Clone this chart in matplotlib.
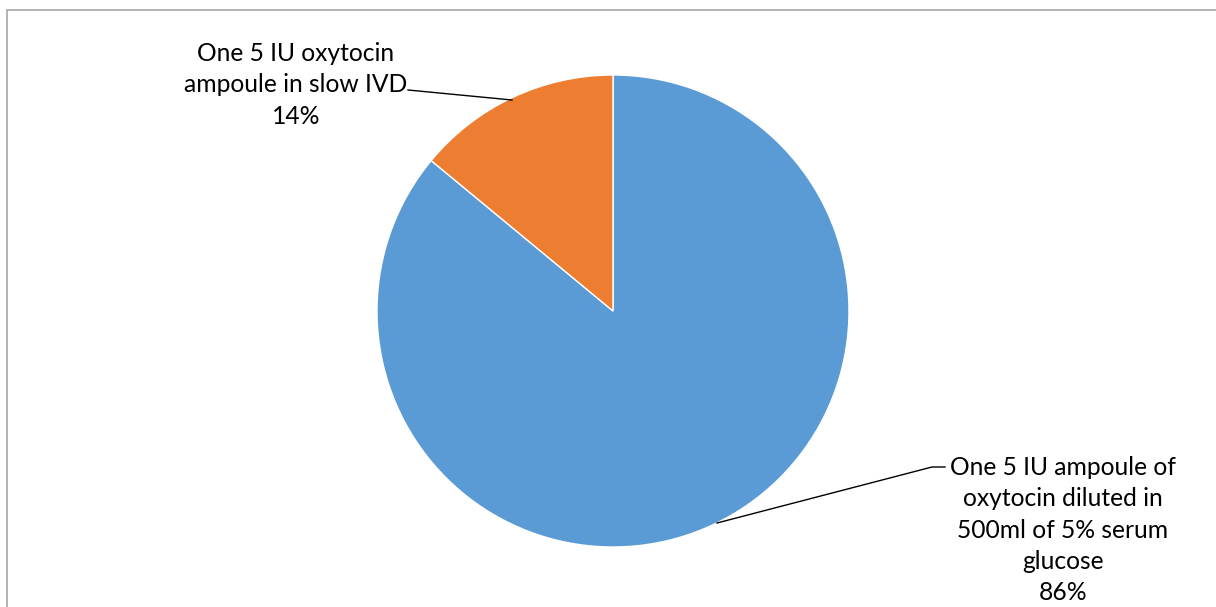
import matplotlib
matplotlib.use("Agg")
import matplotlib.pyplot as plt
from matplotlib.patches import Rectangle

labels = ["One 5 IU ampoule of\noxytocin diluted in\n500ml of 5% serum\nglucose",
          "One 5 IU oxytocin\nampoule in slow IVD"]
values = [86, 14]
colors = ["#5B9BD5", "#ED7D31"]

W, H = 1216, 607
fig = plt.figure(figsize=(W / 100, H / 100), dpi=100)
ax = fig.add_axes([0, 0, 1, 1])

def py(y):
    return H - y

# chart border (cropped on right/bottom)
ax.add_patch(Rectangle((7, py(700)), 1300, 700 - 9.5, fill=False,
                       edgecolor="#A6A6A6", linewidth=1.2))

ax.pie(values, colors=colors, startangle=90, counterclock=False,
       center=(613, py(311)), radius=236,
       wedgeprops=dict(edgecolor="white", linewidth=1))
ax.set_xlim(0, W)
ax.set_ylim(0, H)
ax.set_aspect("equal")
ax.axis("off")

font = dict(family=["Lato", "DejaVu Sans"], fontsize=17.7, color="#000000",
            ha="center", va="center", linespacing=1.43)

ax.text(296, py(85), f"{labels[1]}\n{values[1]}%", **font)
ax.text(1063, py(530), f"{labels[0]}\n{values[0]}%", **font)

ax.plot([408, 512], [py(90), py(100)], color="black", linewidth=1)
ax.plot([945, 932, 717], [py(467), py(467), py(523)], color="black", linewidth=1)

fig.savefig("out.png", dpi=100)
